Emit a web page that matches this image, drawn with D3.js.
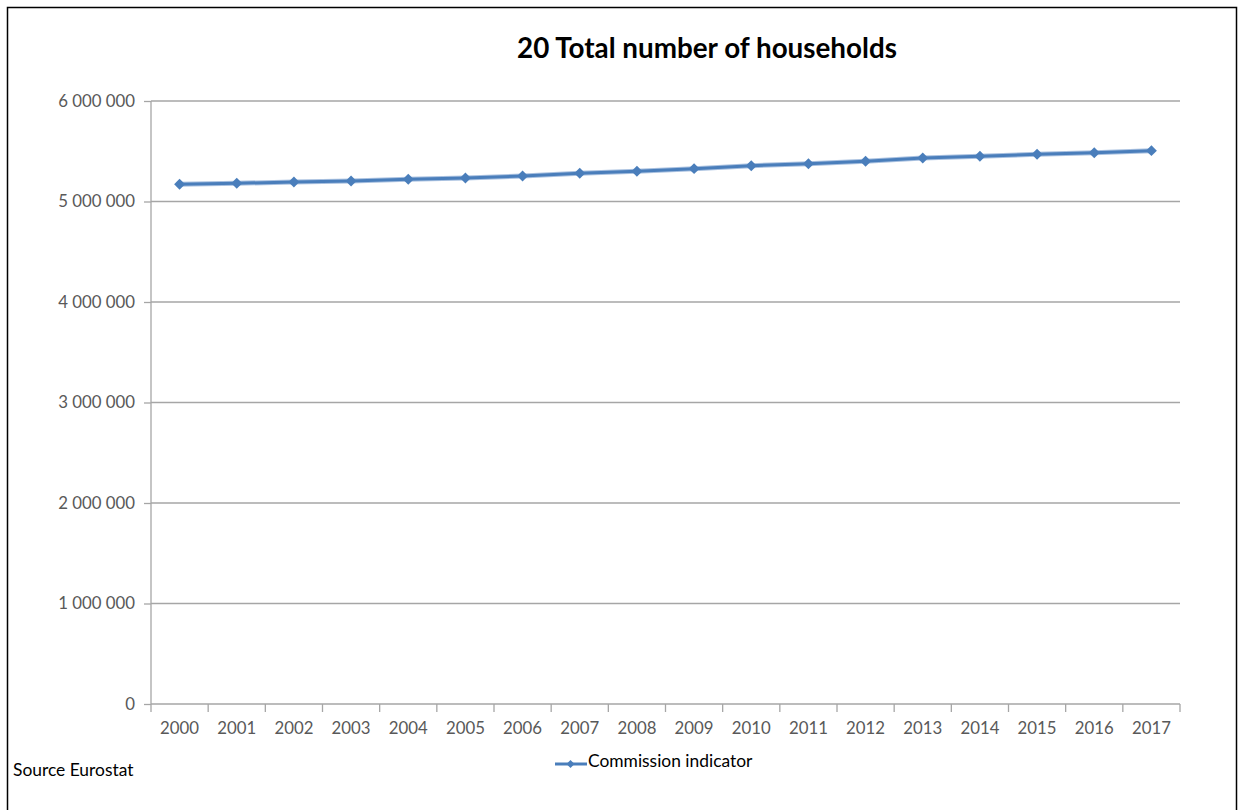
<!DOCTYPE html>
<html>
<head>
<meta charset="utf-8">
<script src="https://cdn.jsdelivr.net/npm/d3@7"></script>
<style>
  html, body { margin: 0; padding: 0; background: #fff; }
  svg { display: block; }
</style>
</head>
<body>
<svg id="chart" width="1240" height="810"></svg>
<script>
// Number of households, 2000–2017
const years = ["2000","2001","2002","2003","2004","2005","2006","2007","2008",
               "2009","2010","2011","2012","2013","2014","2015","2016","2017"];
const households = [5171000, 5181000, 5194000, 5204000, 5221000, 5234000, 5254000,
                    5281000, 5300000, 5327000, 5356000, 5376000, 5400000, 5433000,
                    5450000, 5470000, 5486000, 5506000];
const yTicks = [0, 1000000, 2000000, 3000000, 4000000, 5000000, 6000000];
const titleText = "20 Total number of households";
const seriesName = "Commission indicator";
const sourceText = "Source Eurostat";

const svg = d3.select("#chart");
const font = "Lato, 'Open Sans', sans-serif";
const lineColor = "#4a7ebb";
const gridColor = "#a6a6a6";

// outer frame
svg.append("rect")
  .attr("x", 7.5).attr("y", 7.5).attr("width", 1229).attr("height", 810)
  .attr("fill", "none").attr("stroke", "#000").attr("stroke-width", 1.5);

const plot = { left: 151, right: 1180, top: 101, bottom: 704 };

const x = d3.scaleBand().domain(years).range([plot.left, plot.right]);
const y = d3.scaleLinear().domain([0, 6000000]).range([plot.bottom, plot.top]);

const fmt = v => d3.format(",")(v).replace(/,/g, " ");

// horizontal gridlines
svg.append("g")
  .selectAll("line").data(yTicks.filter(d => d > 0)).join("line")
  .attr("x1", plot.left).attr("x2", plot.right)
  .attr("y1", d => y(d)).attr("y2", d => y(d))
  .attr("stroke", gridColor).attr("stroke-width", 1.3);

// y axis
const yAxis = svg.append("g")
  .attr("transform", `translate(${plot.left},0)`)
  .call(d3.axisLeft(y).tickValues(yTicks).tickFormat(fmt).tickSize(7).tickPadding(9));
yAxis.select(".domain").attr("stroke", gridColor).attr("stroke-width", 1.3)
  .attr("d", `M0,${plot.top}V${plot.bottom}`);
yAxis.selectAll(".tick line").attr("stroke", gridColor).attr("stroke-width", 1.3);
yAxis.selectAll(".tick text").attr("fill", "#595959")
  .style("font-family", font).style("font-size", "16.8px");

// x axis: ticks on band boundaries, labels at band centres
const xAxis = svg.append("g").attr("transform", `translate(0,${plot.bottom})`);
xAxis.append("line")
  .attr("x1", plot.left).attr("x2", plot.right)
  .attr("stroke", gridColor).attr("stroke-width", 1.3);
const bounds = years.map(d => x(d)).concat([x(years[years.length - 1]) + x.bandwidth()]);
xAxis.selectAll(".xt").data(bounds).join("line").attr("class", "xt")
  .attr("x1", d => d).attr("x2", d => d).attr("y1", 0).attr("y2", 8)
  .attr("stroke", gridColor).attr("stroke-width", 1.3);
xAxis.selectAll(".xl").data(years).join("text").attr("class", "xl")
  .attr("x", d => x(d) + x.bandwidth() / 2).attr("y", 30)
  .attr("text-anchor", "middle").attr("fill", "#595959")
  .style("font-family", font).style("font-size", "16.8px")
  .text(d => d);

// data line
const cx = d => x(d) + x.bandwidth() / 2;
const pts = years.map((yr, i) => [cx(yr), y(households[i])]);
const line = d3.line();
svg.append("path").attr("d", line(pts))
  .attr("fill", "none").attr("stroke", "#a9c1e0").attr("stroke-width", 5)
  .attr("stroke-linejoin", "round");
svg.append("path").attr("d", line(pts))
  .attr("fill", "none").attr("stroke", lineColor).attr("stroke-width", 3)
  .attr("stroke-linejoin", "round");

// diamond markers: squares turned 45°
const diamond = d3.symbol().type(d3.symbolSquare).size(60);
svg.append("g").selectAll("path").data(pts).join("path")
  .attr("transform", d => `translate(${d[0]},${d[1]}) rotate(45)`)
  .attr("d", diamond).attr("fill", lineColor);

// title
svg.append("text")
  .attr("x", 707).attr("y", 58).attr("text-anchor", "middle")
  .style("font-family", font).style("font-size", "27.8px").style("font-weight", "bold")
  .attr("fill", "#000").text(titleText);

// legend
const lg = svg.append("g").attr("transform", "translate(0,764)");
lg.append("line").attr("x1", 555).attr("x2", 587).attr("y1", 0).attr("y2", 0)
  .attr("stroke", lineColor).attr("stroke-width", 3);
lg.append("path").attr("transform", "translate(570.5,0) rotate(45)")
  .attr("d", d3.symbol().type(d3.symbolSquare).size(32)).attr("fill", lineColor);
lg.append("text").attr("x", 588).attr("y", 3)
  .style("font-family", font).style("font-size", "17.4px").attr("fill", "#000")
  .text(seriesName);

// source note
svg.append("text").attr("x", 13).attr("y", 776)
  .style("font-family", font).style("font-size", "17.4px").attr("fill", "#000")
  .text(sourceText);
</script>
</body>
</html>
